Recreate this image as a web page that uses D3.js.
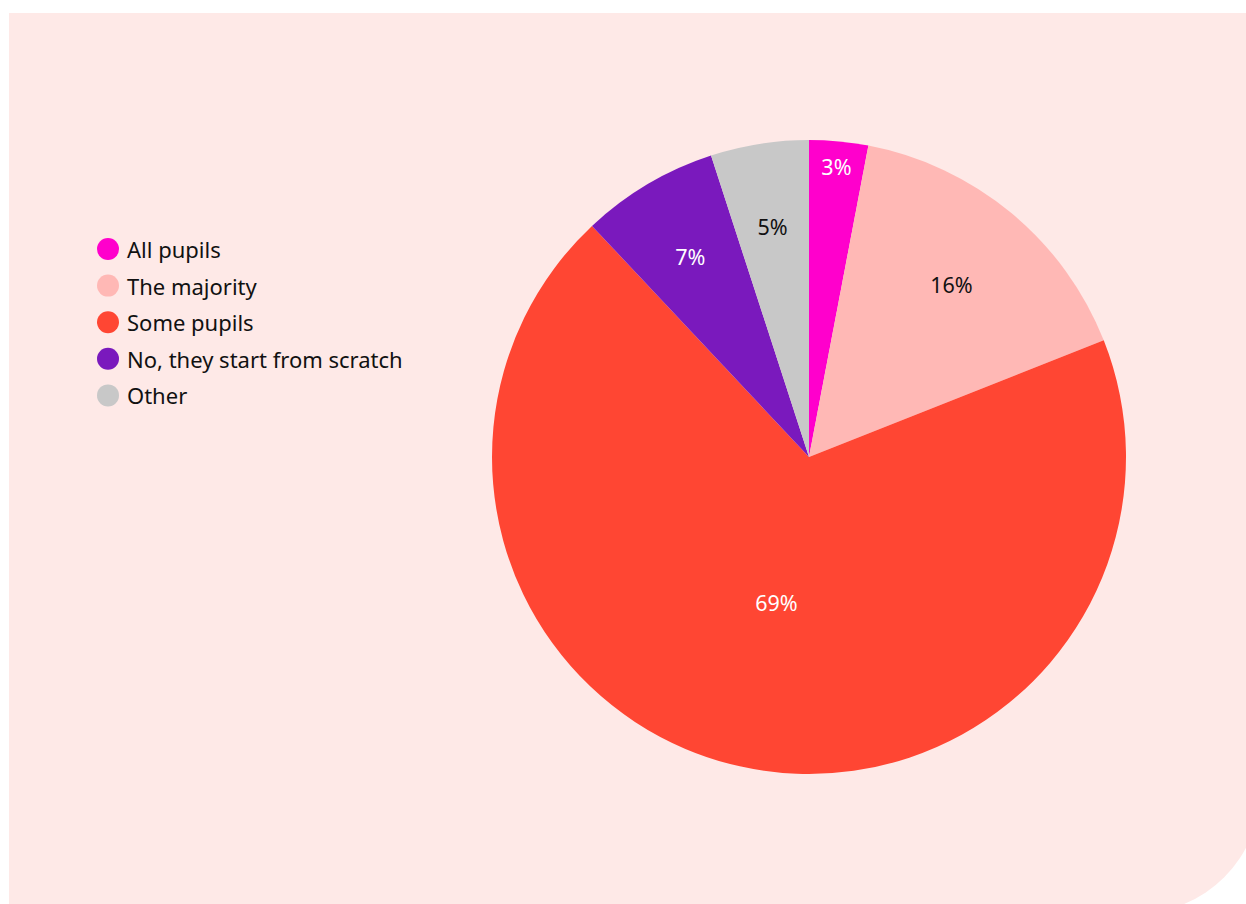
<!DOCTYPE html>
<html><head><meta charset="utf-8">
<script src="https://cdn.jsdelivr.net/npm/d3@7"></script>
<style>html,body{margin:0;padding:0;background:#fff;overflow:hidden;}svg{display:block;}</style>
</head><body>
<svg id="c" width="1246" height="904"></svg>
<script>
const categories = ["All pupils", "The majority", "Some pupils", "No, they start from scratch", "Other"];
const values = [3, 16, 69, 7, 5];
const labels = ["3%", "16%", "69%", "7%", "5%"];
const colors = ["#FF00CC", "#FFB8B5", "#FF4633", "#7A19BD", "#C8C8C8"];
const labelColors = ["#fff", "#111", "#fff", "#fff", "#111"];

const W = 1246, H = 904;
const svg = d3.select("#c");
const font = "'Noto Sans', 'Open Sans', sans-serif";

// background panel with rounded bottom-right corner (extends slightly past the view)
const x0 = 9, y0 = 13, x1 = 1260, y1 = 913, rc = 122;
svg.append("path")
  .attr("d", `M${x0},${y0} H${x1} V${y1 - rc} A${rc},${rc} 0 0 1 ${x1 - rc},${y1} H${x0} Z`)
  .attr("fill", "#FEE9E7");

const cx = 809, cy = 457, R = 317;
const pie = d3.pie().sort(null).value(d => d);
const arcs = pie(values);
const arc = d3.arc().innerRadius(0).outerRadius(R);
const g = svg.append("g").attr("transform", `translate(${cx},${cy})`);
g.selectAll("path").data(arcs).join("path")
  .attr("d", arc).attr("fill", (d, i) => colors[i]);

function labelR(v) { return v < 4 ? 0.92 * R : (v > 50 ? 0.47 * R : (v > 10 ? 0.705 * R : 0.735 * R)); }
g.selectAll("text").data(arcs).join("text")
  .attr("transform", d => {
    const r = labelR(d.data);
    const a = (d.startAngle + d.endAngle) / 2;
    return `translate(${Math.sin(a) * r},${-Math.cos(a) * r})`;
  })
  .attr("text-anchor", "middle").attr("dominant-baseline", "central")
  .attr("font-family", font).attr("font-size", 21.5)
  .attr("fill", (d, i) => labelColors[i])
  .text((d, i) => labels[i]);

// legend
const lg = svg.append("g").attr("transform", "translate(108,249)");
const items = lg.selectAll("g").data(categories).join("g")
  .attr("transform", (d, i) => `translate(0,${i * 36.6})`);
items.append("circle").attr("r", 11).attr("fill", (d, i) => colors[i]);
items.append("text").attr("x", 19).attr("dominant-baseline", "central")
  .attr("font-family", font).attr("font-size", 22).attr("fill", "#111")
  .text(d => d);
</script>
</body></html>
